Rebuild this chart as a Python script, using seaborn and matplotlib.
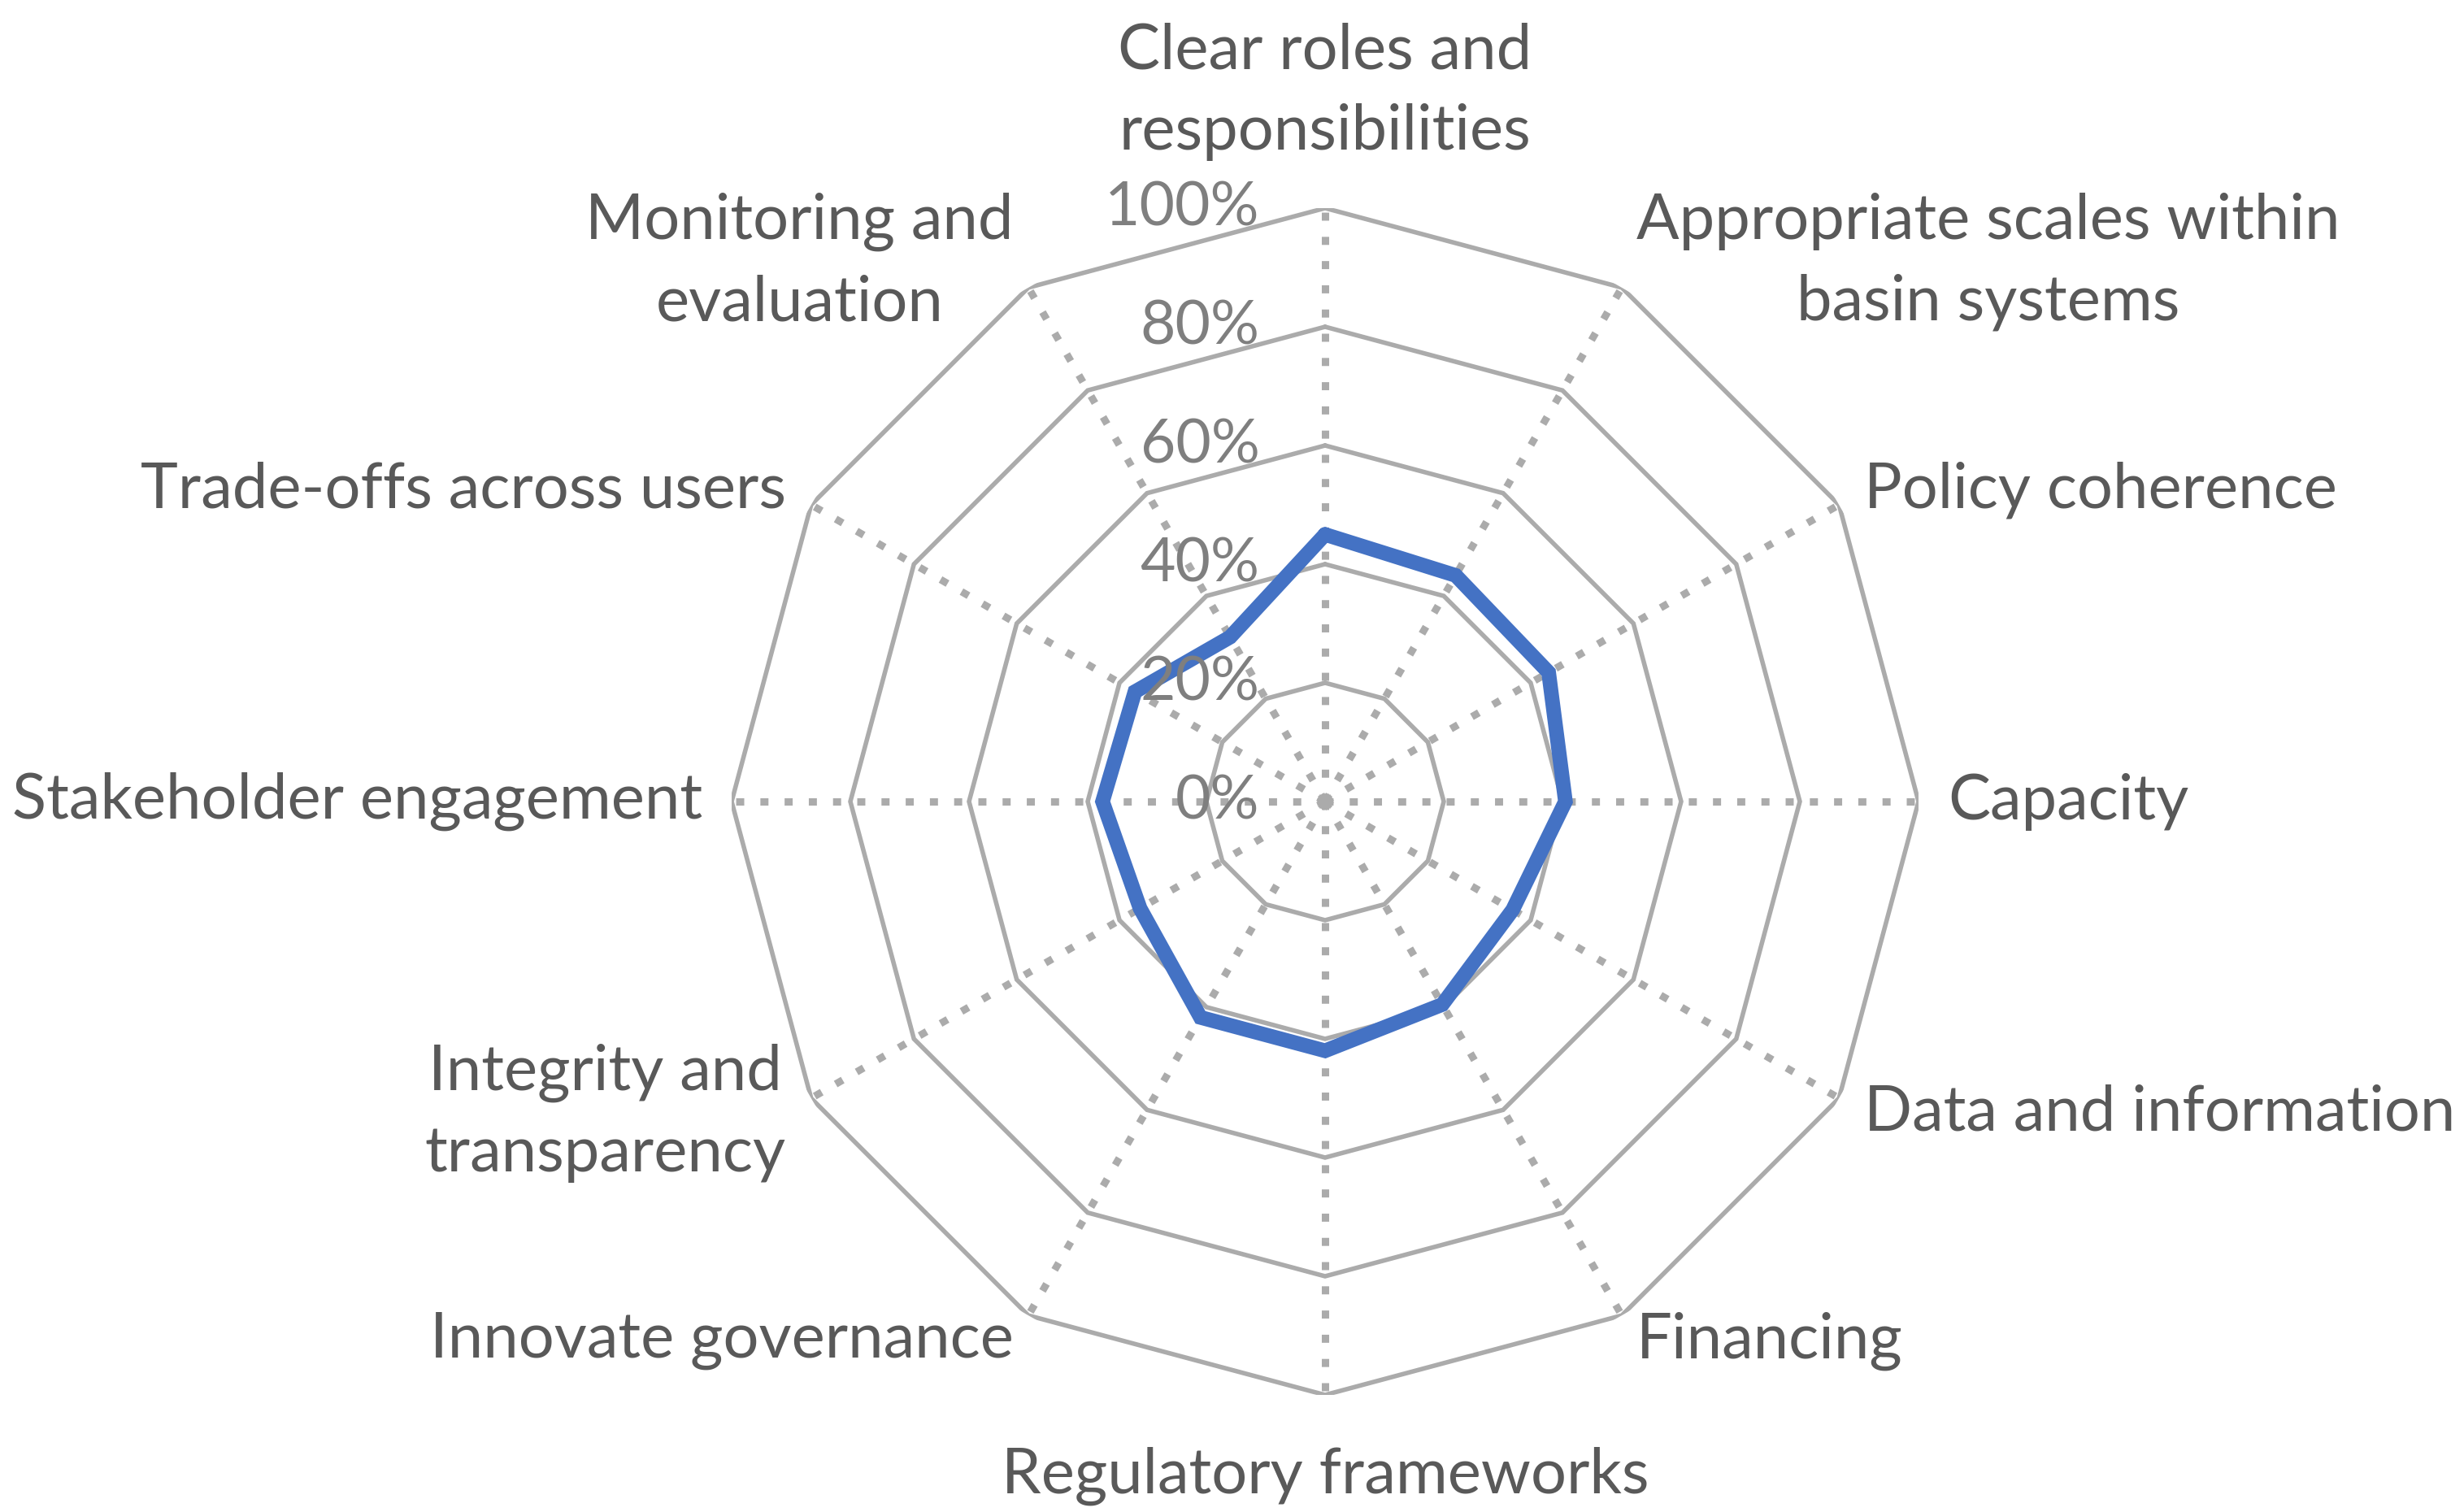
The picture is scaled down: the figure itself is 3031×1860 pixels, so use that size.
import numpy as np
import pandas as pd
import matplotlib

matplotlib.use("Agg")
import matplotlib.pyplot as plt
import seaborn as sns

categories = [
    "Clear roles and\nresponsibilities",
    "Appropriate scales within\nbasin systems",
    "Policy coherence",
    "Capacity",
    "Data and information",
    "Financing",
    "Regulatory frameworks",
    "Innovate governance",
    "Integrity and\ntransparency",
    "Stakeholder engagement",
    "Trade-offs across users",
    "Monitoring and\nevaluation",
]
scores = [45, 44, 43.5, 40.5, 36.5, 39.5, 42, 42, 36, 37.5, 37, 32]
ring_levels = [20, 40, 60, 80, 100]
tick_levels = [0, 20, 40, 60, 80, 100]
tick_labels = ["0%", "20%", "40%", "60%", "80%", "100%"]

GRID = "#ABABAB"
LINE = "#4472C4"
TEXT = "#595959"
TICK = "#7F7F7F"

sns.set_theme(style="white")
plt.rcParams["font.family"] = ["Lato", "DejaVu Sans"]

n = len(categories)
angles = np.linspace(0, 2 * np.pi, n, endpoint=False)

fig = plt.figure(figsize=(30.31, 18.6), dpi=100)
cx, cy, rad = 1630, 986, 730
W, H = 3031, 1860
ax = fig.add_axes([(cx - rad) / W, (H - cy - rad) / H, 2 * rad / W, 2 * rad / H],
                  projection="polar")
ax.set_theta_zero_location("N")
ax.set_theta_direction(-1)
ax.grid(False)
ax.spines["polar"].set_visible(False)
ax.set_xticks([])
ax.set_yticks([])
ax.patch.set_alpha(0)

closed = np.append(angles, 2 * np.pi)

# polygon gridlines
for lvl in ring_levels:
    ax.plot(closed, [lvl] * len(closed), color=GRID, lw=4, zorder=1,
            solid_joinstyle="miter")

# dotted spokes
for a in angles:
    ax.plot([a, a], [0, 100], color=GRID, lw=6.5, linestyle=(0, (1.1, 2.2)),
            dash_capstyle="butt", zorder=1)

df = pd.DataFrame({"theta": closed, "value": scores + [scores[0]]})
sns.lineplot(data=df, x="theta", y="value", sort=False, estimator=None,
             ax=ax, color=LINE, linewidth=13, zorder=3)
ax.lines[-1].set_solid_joinstyle("miter")
ax.set_xlabel("")
ax.set_ylabel("")
ax.set_ylim(0, 100)

# radial tick labels along the top spoke
for lvl, lab in zip(tick_levels, tick_labels):
    ax.annotate(lab, xy=(0, lvl), xytext=(-58, 0), textcoords="offset points",
                ha="right", va="center", fontsize=54, color=TICK, zorder=4)

# category labels
for a, lab in zip(angles, categories):
    s, c = np.sin(a), np.cos(a)
    if abs(s) < 0.01:
        ha = "center"
        if c > 0:
            va, off = "bottom", (0, 42)
        else:
            va, off = "top", (0, -46)
    else:
        ha = "left" if s > 0 else "right"
        va = "center"
        off = (26 * s, 26 * c)
    ax.annotate(lab, xy=(a, 100), xytext=off, textcoords="offset points",
                ha=ha, va=va, multialignment="center", fontsize=56,
                color=TEXT, linespacing=1.5)

fig.savefig("out.png", dpi=100, facecolor="white")
